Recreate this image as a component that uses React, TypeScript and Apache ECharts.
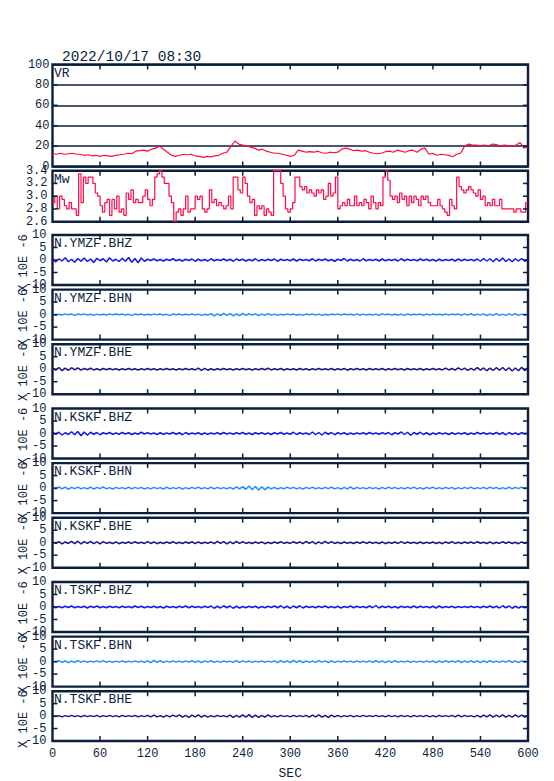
import React, { useEffect, useRef } from "react";
import * as echarts from "echarts";

// ---------------- DATA ----------------
const TITLE = "2022/10/17 08:30";
const X_MIN = 0;
const X_MAX = 600;
const X_STEP = 60;
const X_NAME = "SEC";
const WAVE_UNIT = "X 10E -6";

const vrLabel = "VR";
const mwLabel = "Mw";
const channelLabels = [
  "N.YMZF.BHZ", "N.YMZF.BHN", "N.YMZF.BHE",
  "N.KSKF.BHZ", "N.KSKF.BHN", "N.KSKF.BHE",
  "N.TSKF.BHZ", "N.TSKF.BHN", "N.TSKF.BHE",
];

// VR, sampled every 5 s
const vrValues = [
  12.5, 12, 13, 12, 12.5, 13, 12, 12, 11, 11.5,
  10.5, 11, 10, 11, 10.5, 10, 11, 11.5, 12, 13,
  12.5, 15, 15.5, 16, 15, 17, 18, 20, 17, 14,
  11, 10, 11, 12, 11.5, 12, 10.5, 10, 9, 10,
  9.5, 10.5, 11, 13, 14, 19.5, 25, 22, 21, 20.5,
  19, 18, 16, 17, 15, 14, 13, 13, 12, 11,
  10, 11, 16, 15, 14, 14.5, 14, 15, 13.5, 13,
  14, 13.5, 14, 17, 18, 17, 15.5, 16, 15, 15.5,
  14, 13, 12.5, 13, 14.5, 15, 14, 16, 15, 14,
  15.5, 16, 14, 17, 18, 12, 13, 11, 12, 11.5,
  11, 9.5, 12, 13, 20, 22, 21, 21, 20.5, 21,
  20, 22, 21.5, 20, 21, 20.5, 20, 21, 23.5, 18,
  20,
];

// Mw, sampled every 3 s
const mwValues = [
  2.9, 3.0, 2.8, 3.0, 2.95, 2.85, 2.8, 2.9, 2.8, 2.8,
  2.7, 3.35, 2.9, 3.3, 3.2, 3.3, 3.3, 3.2, 3.05, 3.0,
  2.85, 2.75, 2.9, 2.95, 2.7, 2.95, 2.8, 3.0, 2.75, 2.8,
  2.7, 3.05, 2.95, 3.1, 2.9, 2.95, 2.9, 2.9, 3.0, 3.1,
  2.95, 2.85, 2.95, 3.3, 3.35, 3.4, 3.3, 3.2, 3.2, 3.0,
  2.9, 2.6, 2.75, 2.8, 2.7, 2.8, 3.0, 2.75, 2.8, 2.8,
  3.0, 2.95, 3.0, 2.8, 2.75, 2.8, 3.1, 2.9, 2.95, 2.85,
  2.9, 2.85, 2.8, 2.85, 3.0, 2.8, 3.3, 3.3, 3.1, 3.05,
  3.3, 3.2, 3.0, 2.9, 2.95, 2.7, 2.85, 2.8, 2.85, 2.7,
  2.8, 2.75, 2.7, 3.4, 3.4, 3.4, 3.2, 3.0, 2.8, 2.75,
  2.8, 2.9, 3.3, 3.3, 3.15, 3.1, 3.15, 3.05, 3.1, 3.05,
  3.0, 3.1, 3.05, 3.1, 2.95, 3.0, 3.2, 3.0, 3.05, 3.3,
  2.8, 2.85, 2.9, 2.85, 2.95, 2.85, 2.85, 3.0, 2.85, 2.9,
  2.85, 2.95, 2.9, 2.8, 3.0, 2.9, 2.8, 2.9, 2.85, 3.3,
  3.4, 3.25, 3.0, 2.95, 3.0, 2.9, 3.05, 2.95, 3.0, 2.85,
  3.0, 2.9, 3.0, 2.95, 2.85, 3.0, 2.95, 3.0, 2.9, 2.85,
  2.85, 2.85, 2.95, 2.85, 2.8, 2.75, 2.7, 2.95, 2.85, 2.8,
  3.3, 3.15, 3.1, 3.05, 3.1, 3.15, 3.1, 3.05, 3.0, 3.1,
  2.95, 3.0, 2.85, 2.9, 2.85, 2.95, 2.85, 2.85, 2.95, 2.8,
  2.8, 2.8, 2.8, 2.8, 2.75, 2.8, 2.8, 2.75, 2.75, 2.9,
  2.9,
];

// Waveforms (units of 1e-6), sampled every 4 s
const ymzfBhz = [
  0.6, -0.8, 0.5, -0.4, 0.9, -0.7, 0.3, -0.9, 0.6, -0.5,
  0.8, -0.6, 0.4, -1.0, 0.7, -0.3, 0.5, -0.8, 0.9, -0.4,
  0.3, -0.6, 0.7, -0.5, 1.0, -0.9, 0.6, -1.1, 0.8, -0.5,
  0.3, -0.2, 0.4, -0.3, 0.2, -0.4, 0.3, -0.2, 0.5, -0.3,
  0.2, -0.4, 0.3, -0.2, 0.4, -0.5, 0.3, -0.3, 0.2, -0.4,
  0.5, -0.3, 0.2, -0.2, 0.4, -0.3, 0.3, -0.5, 0.4, -0.2,
  0.3, -0.4, 0.2, -0.3, 0.5, -0.4, 0.2, -0.3, 0.3, -0.2,
  0.4, -0.5, 0.3, -0.2, 0.2, -0.3, 0.4, -0.4, 0.3, -0.2,
  0.2, -0.3, 0.5, -0.4, 0.3, -0.2, 0.4, -0.3, 0.2, -0.5,
  0.3, -0.2, 0.6, -0.4, 0.3, -0.3, 0.2, -0.4, 0.5, -0.3,
  0.2, -0.2, 0.3, -0.4, 0.4, -0.3, 0.2, -0.2, 0.3, -0.4,
  0.5, -0.3, 0.3, -0.2, 0.2, -0.3, 0.4, -0.2, 0.3, -0.3,
  0.2, -0.4, 0.3, -0.3, 0.2, -0.2, 0.3, -0.4, 0.4, -0.3,
  0.3, -0.2, 0.2, -0.3, 0.4, -0.5, 0.6, -0.4, 0.5, -0.7,
  0.6, -0.5, 0.8, -0.6, 0.4, -0.7, 0.5, -0.4, 0.6, -0.5,
  0.3,
];
const ymzfBhn = [
  0.2, -0.3, 0.1, -0.2, 0.3, -0.1, 0.2, -0.3, 0.2, -0.1,
  0.3, -0.2, 0.1, -0.3, 0.2, -0.2, 0.1, -0.2, 0.3, -0.1,
  0.2, -0.1, 0.2, -0.2, 0.1, -0.3, 0.2, -0.1, 0.2, -0.2,
  0.1, -0.2, 0.3, -0.1, 0.2, -0.2, 0.1, -0.3, 0.2, -0.1,
  0.2, -0.2, 0.1, -0.1, 0.3, -0.2, 0.2, -0.3, 0.1, -0.2,
  0.4, -0.5, 0.3, -0.4, 0.5, -0.3, 0.4, -0.5, 0.3, -0.4,
  0.5, -0.3, 0.4, -0.2, 0.3, -0.4, 0.2, -0.3, 0.4, -0.2,
  0.2, -0.3, 0.1, -0.2, 0.3, -0.1, 0.2, -0.2, 0.1, -0.3,
  0.2, -0.1, 0.3, -0.2, 0.2, -0.3, 0.1, -0.2, 0.2, -0.1,
  0.3, -0.2, 0.2, -0.1, 0.1, -0.2, 0.3, -0.3, 0.2, -0.2,
  0.1, -0.2, 0.2, -0.3, 0.3, -0.1, 0.2, -0.2, 0.1, -0.2,
  0.2, -0.3, 0.3, -0.2, 0.1, -0.1, 0.2, -0.3, 0.3, -0.2,
  0.2, -0.1, 0.1, -0.2, 0.3, -0.2, 0.2, -0.1, 0.2, -0.3,
  0.3, -0.2, 0.4, -0.3, 0.2, -0.2, 0.3, -0.4, 0.2, -0.3,
  0.4, -0.3, 0.2, -0.3, 0.3, -0.2, 0.4, -0.3, 0.2, -0.2,
  0.1,
];
const ymzfBhe = [
  0.5, -0.4, 0.7, -0.6, 0.4, -0.5, 0.6, -0.3, 0.5, -0.4,
  0.3, -0.2, 0.4, -0.3, 0.2, -0.3, 0.3, -0.2, 0.3, -0.2,
  0.2, -0.3, 0.2, -0.2, 0.3, -0.2, 0.2, -0.3, 0.2, -0.2,
  0.3, -0.2, 0.2, -0.3, 0.2, -0.2, 0.3, -0.2, 0.2, -0.3,
  0.2, -0.2, 0.3, -0.2, 0.2, -0.3, 0.4, -0.5, 0.3, -0.4,
  0.2, -0.3, 0.2, -0.2, 0.3, -0.2, 0.2, -0.3, 0.2, -0.2,
  0.3, -0.2, 0.2, -0.3, 0.2, -0.2, 0.3, -0.2, 0.4, -0.3,
  0.2, -0.2, 0.3, -0.3, 0.2, -0.2, 0.2, -0.3, 0.3, -0.2,
  0.2, -0.3, 0.2, -0.2, 0.3, -0.2, 0.2, -0.2, 0.3, -0.3,
  0.2, -0.2, 0.3, -0.4, 0.2, -0.2, 0.3, -0.2, 0.2, -0.3,
  0.3, -0.2, 0.2, -0.2, 0.3, -0.3, 0.2, -0.2, 0.3, -0.2,
  0.2, -0.3, 0.3, -0.2, 0.2, -0.2, 0.3, -0.3, 0.2, -0.2,
  0.3, -0.2, 0.2, -0.3, 0.4, -0.3, 0.3, -0.4, 0.5, -0.3,
  0.4, -0.5, 0.3, -0.4, 0.6, -0.4, 0.5, -0.6, 0.4, -0.5,
  0.6, -0.4, 0.7, -0.5, 0.6, -0.7, 0.5, -0.6, 0.8, -0.6,
  0.7,
];
const kskfBhz = [
  0.4, -0.3, 0.5, -0.6, 0.3, -0.4, 0.7, -0.5, 0.8, -0.9,
  0.6, -0.7, 0.5, -0.3, 0.4, -0.5, 0.3, -0.2, 0.4, -0.3,
  0.2, -0.3, 0.4, -0.2, 0.3, -0.4, 0.2, -0.3, 0.5, -0.2,
  0.3, -0.2, 0.2, -0.4, 0.3, -0.3, 0.2, -0.2, 0.4, -0.3,
  0.3, -0.5, 0.4, -0.3, 0.2, -0.2, 0.3, -0.4, 0.2, -0.3,
  0.2, -0.2, 0.3, -0.3, 0.4, -0.2, 0.2, -0.3, 0.3, -0.2,
  0.4, -0.3, 0.2, -0.4, 0.3, -0.2, 0.3, -0.3, 0.2, -0.4,
  0.3, -0.2, 0.4, -0.3, 0.2, -0.3, 0.5, -0.4, 0.3, -0.2,
  0.2, -0.4, 0.6, -0.5, 0.4, -0.6, 0.5, -0.3, 0.4, -0.5,
  0.3, -0.2, 0.3, -0.4, 0.2, -0.3, 0.2, -0.2, 0.3, -0.3,
  0.4, -0.2, 0.2, -0.3, 0.3, -0.2, 0.4, -0.5, 0.3, -0.2,
  0.6, -0.4, 0.5, -0.7, 0.4, -0.3, 0.5, -0.4, 0.3, -0.5,
  0.2, -0.3, 0.3, -0.2, 0.2, -0.4, 0.3, -0.3, 0.2, -0.2,
  0.3, -0.4, 0.2, -0.3, 0.4, -0.2, 0.3, -0.3, 0.2, -0.3,
  0.4, -0.3, 0.3, -0.5, 0.4, -0.3, 0.2, -0.4, 0.3, -0.2,
  0.2,
];
const kskfBhn = [
  0.3, -0.4, 0.5, -0.3, 0.4, -0.5, 0.3, -0.2, 0.4, -0.3,
  0.2, -0.3, 0.4, -0.4, 0.3, -0.2, 0.5, -0.3, 0.2, -0.4,
  0.3, -0.2, 0.2, -0.3, 0.4, -0.3, 0.3, -0.2, 0.3, -0.4,
  0.2, -0.3, 0.3, -0.2, 0.2, -0.4, 0.4, -0.3, 0.2, -0.2,
  0.3, -0.4, 0.2, -0.3, 0.3, -0.2, 0.4, -0.3, 0.2, -0.3,
  0.4, -0.3, 0.3, -0.2, 0.2, -0.3, 0.3, -0.4, 0.5, -0.3,
  0.6, -0.5, 0.8, -0.7, 0.6, -0.8, 0.5, -0.6, 0.4, -0.3,
  0.3, -0.4, 0.2, -0.3, 0.4, -0.2, 0.3, -0.3, 0.2, -0.4,
  0.3, -0.2, 0.4, -0.3, 0.2, -0.3, 0.3, -0.2, 0.4, -0.3,
  0.2, -0.4, 0.3, -0.3, 0.5, -0.4, 0.3, -0.2, 0.2, -0.3,
  0.3, -0.2, 0.2, -0.4, 0.3, -0.3, 0.4, -0.2, 0.3, -0.3,
  0.2, -0.3, 0.3, -0.2, 0.4, -0.3, 0.2, -0.4, 0.3, -0.2,
  0.4, -0.3, 0.2, -0.3, 0.3, -0.2, 0.3, -0.4, 0.2, -0.3,
  0.3, -0.2, 0.4, -0.3, 0.2, -0.2, 0.3, -0.3, 0.4, -0.2,
  0.3, -0.4, 0.2, -0.3, 0.4, -0.3, 0.3, -0.2, 0.4, -0.3,
  0.2,
];
const kskfBhe = [
  0.3, -0.2, 0.4, -0.5, 0.3, -0.3, 0.5, -0.4, 0.6, -0.5,
  0.4, -0.3, 0.5, -0.4, 0.3, -0.5, 0.4, -0.3, 0.2, -0.3,
  0.3, -0.4, 0.2, -0.2, 0.3, -0.3, 0.4, -0.2, 0.2, -0.3,
  0.4, -0.3, 0.3, -0.4, 0.2, -0.3, 0.3, -0.2, 0.4, -0.3,
  0.2, -0.3, 0.3, -0.2, 0.4, -0.4, 0.3, -0.3, 0.2, -0.2,
  0.3, -0.4, 0.5, -0.3, 0.4, -0.5, 0.3, -0.4, 0.5, -0.3,
  0.4, -0.3, 0.2, -0.3, 0.3, -0.2, 0.3, -0.4, 0.2, -0.3,
  0.3, -0.2, 0.4, -0.3, 0.2, -0.3, 0.4, -0.2, 0.3, -0.4,
  0.5, -0.3, 0.4, -0.5, 0.3, -0.4, 0.5, -0.3, 0.4, -0.3,
  0.2, -0.3, 0.3, -0.2, 0.2, -0.3, 0.3, -0.2, 0.4, -0.3,
  0.3, -0.2, 0.2, -0.3, 0.3, -0.4, 0.2, -0.2, 0.3, -0.3,
  0.4, -0.3, 0.3, -0.2, 0.2, -0.3, 0.3, -0.3, 0.2, -0.2,
  0.3, -0.3, 0.2, -0.4, 0.3, -0.2, 0.4, -0.3, 0.2, -0.3,
  0.3, -0.2, 0.3, -0.3, 0.4, -0.2, 0.2, -0.3, 0.3, -0.4,
  0.2, -0.3, 0.4, -0.2, 0.3, -0.3, 0.2, -0.4, 0.3, -0.2,
  0.3,
];
const tskfBhz = [
  0.4, -0.3, 0.2, -0.3, 0.3, -0.2, 0.4, -0.3, 0.2, -0.2,
  0.3, -0.4, 0.3, -0.2, 0.4, -0.3, 0.2, -0.3, 0.3, -0.2,
  0.2, -0.3, 0.3, -0.2, 0.2, -0.3, 0.4, -0.2, 0.3, -0.3,
  0.2, -0.2, 0.3, -0.3, 0.2, -0.4, 0.3, -0.2, 0.2, -0.3,
  0.3, -0.2, 0.4, -0.3, 0.3, -0.2, 0.2, -0.3, 0.3, -0.2,
  0.4, -0.5, 0.3, -0.4, 0.5, -0.3, 0.4, -0.5, 0.3, -0.4,
  0.2, -0.3, 0.3, -0.2, 0.3, -0.4, 0.2, -0.3, 0.3, -0.2,
  0.4, -0.3, 0.5, -0.4, 0.3, -0.5, 0.4, -0.3, 0.5, -0.4,
  0.3, -0.2, 0.2, -0.3, 0.3, -0.2, 0.4, -0.3, 0.2, -0.3,
  0.3, -0.4, 0.2, -0.2, 0.4, -0.3, 0.3, -0.2, 0.2, -0.3,
  0.4, -0.3, 0.6, -0.4, 0.3, -0.2, 0.3, -0.3, 0.2, -0.4,
  0.3, -0.2, 0.2, -0.3, 0.4, -0.3, 0.3, -0.2, 0.2, -0.3,
  0.3, -0.4, 0.4, -0.3, 0.2, -0.2, 0.3, -0.3, 0.2, -0.2,
  0.2, -0.2, 0.3, -0.2, 0.2, -0.3, 0.3, -0.2, 0.4, -0.3,
  0.3, -0.4, 0.5, -0.3, 0.4, -0.5, 0.3, -0.4, 0.2, -0.3,
  0.2,
];
const tskfBhn = [
  0.3, -0.2, 0.4, -0.3, 0.3, -0.4, 0.2, -0.3, 0.4, -0.2,
  0.3, -0.3, 0.2, -0.2, 0.3, -0.2, 0.4, -0.3, 0.2, -0.3,
  0.2, -0.2, 0.3, -0.3, 0.2, -0.2, 0.3, -0.2, 0.2, -0.3,
  0.3, -0.4, 0.5, -0.3, 0.4, -0.3, 0.2, -0.2, 0.3, -0.2,
  0.2, -0.3, 0.3, -0.2, 0.4, -0.3, 0.3, -0.4, 0.3, -0.2,
  0.4, -0.3, 0.2, -0.3, 0.3, -0.2, 0.2, -0.3, 0.4, -0.3,
  0.3, -0.2, 0.3, -0.3, 0.2, -0.2, 0.3, -0.3, 0.2, -0.2,
  0.3, -0.4, 0.4, -0.3, 0.3, -0.4, 0.5, -0.3, 0.4, -0.4,
  0.3, -0.3, 0.2, -0.3, 0.4, -0.2, 0.3, -0.4, 0.3, -0.3,
  0.2, -0.2, 0.3, -0.2, 0.2, -0.3, 0.3, -0.2, 0.2, -0.2,
  0.3, -0.3, 0.4, -0.3, 0.3, -0.4, 0.3, -0.3, 0.4, -0.3,
  0.2, -0.2, 0.3, -0.3, 0.2, -0.2, 0.2, -0.3, 0.3, -0.2,
  0.3, -0.4, 0.3, -0.3, 0.4, -0.3, 0.3, -0.2, 0.4, -0.4,
  0.3, -0.3, 0.4, -0.3, 0.3, -0.4, 0.3, -0.3, 0.4, -0.3,
  0.2, -0.3, 0.3, -0.2, 0.4, -0.3, 0.3, -0.4, 0.3, -0.2,
  0.3,
];
const tskfBhe = [
  0.3, -0.2, 0.2, -0.3, 0.2, -0.2, 0.3, -0.2, 0.2, -0.3,
  0.3, -0.2, 0.2, -0.2, 0.3, -0.3, 0.2, -0.2, 0.3, -0.2,
  0.2, -0.3, 0.3, -0.2, 0.2, -0.2, 0.3, -0.3, 0.2, -0.2,
  0.3, -0.3, 0.4, -0.3, 0.2, -0.4, 0.3, -0.3, 0.4, -0.2,
  0.5, -0.4, 0.3, -0.5, 0.4, -0.3, 0.5, -0.4, 0.3, -0.4,
  0.2, -0.3, 0.3, -0.2, 0.2, -0.3, 0.4, -0.5, 0.3, -0.4,
  0.5, -0.4, 0.6, -0.5, 0.4, -0.5, 0.3, -0.4, 0.5, -0.3,
  0.2, -0.3, 0.3, -0.2, 0.2, -0.3, 0.3, -0.2, 0.2, -0.2,
  0.3, -0.4, 0.4, -0.3, 0.5, -0.4, 0.3, -0.5, 0.4, -0.3,
  0.3, -0.3, 0.2, -0.2, 0.3, -0.3, 0.2, -0.2, 0.3, -0.2,
  0.2, -0.2, 0.3, -0.2, 0.2, -0.3, 0.3, -0.2, 0.2, -0.3,
  0.3, -0.2, 0.2, -0.3, 0.3, -0.2, 0.2, -0.2, 0.3, -0.3,
  0.2, -0.3, 0.3, -0.2, 0.2, -0.2, 0.3, -0.3, 0.4, -0.3,
  0.3, -0.2, 0.2, -0.3, 0.3, -0.4, 0.4, -0.3, 0.5, -0.4,
  0.4, -0.3, 0.5, -0.4, 0.3, -0.4, 0.5, -0.3, 0.4, -0.4,
  0.3,
];

const waveValues = [ymzfBhz, ymzfBhn, ymzfBhe, kskfBhz, kskfBhn, kskfBhe, tskfBhz, tskfBhn, tskfBhe];

// ---------------- STYLE / LAYOUT ----------------
const FRAME = "#0b1f3d";
const TEXT = "#0b1f3d";
const RED = "#ff0a47";
const COMP_COLORS = ["#1616e8", "#1e8cff", "#16168a"];
const FONT = "Liberation Mono";
const PLOT_LEFT = 52.5;
const PLOT_WIDTH = 475.5;
const WAVE_GROUP_TOPS = [235, 408.5, 582];
const WAVE_STEP = 54.6;
const WAVE_H = 50;
const TICK_LEN = 5;

type Panel = {
  label: string;
  values: number[];
  top: number;
  height: number;
  min: number;
  max: number;
  interval: number;
  decimals: number;
  color: string;
  lineWidth: number;
  step: boolean;
  gridLines: boolean;
  labelMargin: number;
  unit: string;
};

function buildPanels(): Panel[] {
  const panels: Panel[] = [
    { label: vrLabel, values: vrValues, top: 64.5, height: 102, min: 0, max: 100, interval: 20, decimals: 0, color: RED, lineWidth: 1.2, step: false, gridLines: true, labelMargin: 3, unit: "" },
    { label: mwLabel, values: mwValues, top: 170.7, height: 51, min: 2.6, max: 3.4, interval: 0.2, decimals: 1, color: RED, lineWidth: 1.2, step: true, gridLines: false, labelMargin: 5, unit: "" },
  ];
  waveValues.forEach((vals, i) => {
    const g = Math.floor(i / 3);
    const k = i % 3;
    panels.push({
      label: channelLabels[i], values: vals,
      top: WAVE_GROUP_TOPS[g] + k * WAVE_STEP, height: WAVE_H,
      min: -10, max: 10, interval: 5, decimals: 0,
      color: COMP_COLORS[k], lineWidth: 1.5, step: false, gridLines: false,
      labelMargin: 6, unit: WAVE_UNIT,
    });
  });
  return panels;
}

function innerTicks(min: number, max: number, step: number): number[] {
  const out: number[] = [];
  const n = Math.round((max - min) / step);
  for (let k = 1; k < n; k++) out.push(Math.round((min + k * step) * 1000) / 1000);
  return out;
}

function buildOption() {
  const panels = buildPanels();
  const last = panels.length - 1;
  const labelStyle = { color: TEXT, fontFamily: FONT, fontSize: 12 };
  const tickStyle = { stroke: FRAME, lineWidth: 1.5 };
  const grid: any[] = [];
  const xAxis: any[] = [];
  const yAxis: any[] = [];
  const series: any[] = [];
  const graphic: any[] = [
    { type: "text", left: 62, top: 49, style: { text: TITLE, fontFamily: FONT, fontSize: 14.5, fill: TEXT } },
  ];
  const xTickVals = innerTicks(X_MIN, X_MAX, X_STEP);

  panels.forEach((p, i) => {
    grid.push({ left: PLOT_LEFT, width: PLOT_WIDTH, top: p.top, height: p.height, show: true, borderColor: FRAME, borderWidth: 2.4 });
    xAxis.push({
      type: "value", gridIndex: i, min: X_MIN, max: X_MAX, interval: X_STEP, position: "bottom",
      axisLine: { show: false, onZero: false }, axisTick: { show: false }, splitLine: { show: false },
      axisLabel: { show: i === last, margin: 7, ...labelStyle },
      name: i === last ? X_NAME : "", nameLocation: "middle", nameGap: 26, nameMoveOverlap: false,
      nameTextStyle: { ...labelStyle, fontSize: 13 },
    });
    yAxis.push({
      type: "value", gridIndex: i, min: p.min, max: p.max, interval: p.interval, position: "left",
      axisLine: { show: false, onZero: false }, axisTick: { show: false },
      splitLine: { show: p.gridLines, lineStyle: { color: FRAME, width: 1.5 } },
      axisLabel: { margin: p.labelMargin, ...labelStyle, formatter: (v: number) => v.toFixed(p.decimals) },
      name: p.unit, nameLocation: "middle", nameRotate: 90, nameGap: 23, nameMoveOverlap: false,
      nameTextStyle: { ...labelStyle, padding: [0, 6, 0, 0] },
    });

    const dt = (X_MAX - X_MIN) / (p.values.length - 1);
    series.push({
      type: "line", xAxisIndex: i, yAxisIndex: i,
      data: p.values.map((v, j) => [X_MIN + j * dt, v]),
      showSymbol: false, symbol: "none", step: p.step ? "end" : false,
      lineStyle: { color: p.color, width: p.lineWidth }, itemStyle: { color: p.color },
      silent: true,
    });

    // inward x ticks on top and bottom edges, placed through the axis scale
    series.push({
      type: "custom", xAxisIndex: i, yAxisIndex: i, silent: true, clip: false, z: 5,
      data: xTickVals.map((v) => [v, p.min]),
      encode: { x: 0, y: 1 },
      renderItem: (_params: any, api: any) => {
        const x = api.value(0);
        const b = api.coord([x, p.min]);
        const t = api.coord([x, p.max]);
        return {
          type: "group",
          children: [
            { type: "line", shape: { x1: b[0], y1: b[1], x2: b[0], y2: b[1] - TICK_LEN }, style: tickStyle },
            { type: "line", shape: { x1: t[0], y1: t[1], x2: t[0], y2: t[1] + TICK_LEN }, style: tickStyle },
          ],
        };
      },
    });
    // inward y ticks on left and right edges
    series.push({
      type: "custom", xAxisIndex: i, yAxisIndex: i, silent: true, clip: false, z: 5,
      data: innerTicks(p.min, p.max, p.interval).map((v) => [X_MIN, v]),
      encode: { x: 0, y: 1 },
      renderItem: (_params: any, api: any) => {
        const y = api.value(1);
        const l = api.coord([X_MIN, y]);
        const r = api.coord([X_MAX, y]);
        return {
          type: "group",
          children: [
            { type: "line", shape: { x1: l[0], y1: l[1], x2: l[0] + TICK_LEN, y2: l[1] }, style: tickStyle },
            { type: "line", shape: { x1: r[0], y1: r[1], x2: r[0] - TICK_LEN, y2: r[1] }, style: tickStyle },
          ],
        };
      },
    });
    graphic.push({ type: "text", left: 54, top: p.top + 2, style: { text: p.label, fontFamily: FONT, fontSize: 13, fill: TEXT }, z: 10 });
  });

  return { animation: false, backgroundColor: "#ffffff", grid, xAxis, yAxis, series, graphic };
}

export default function App() {
  const ref = useRef<HTMLDivElement>(null);
  useEffect(() => {
    if (!ref.current) return;
    const chart = echarts.init(ref.current, null, { renderer: "svg" });
    chart.setOption(buildOption() as any);
    return () => chart.dispose();
  }, []);
  return <div ref={ref} style={{ position: "fixed", left: 0, top: 0, width: 554, height: 781, background: "#fff" }} />;
}
